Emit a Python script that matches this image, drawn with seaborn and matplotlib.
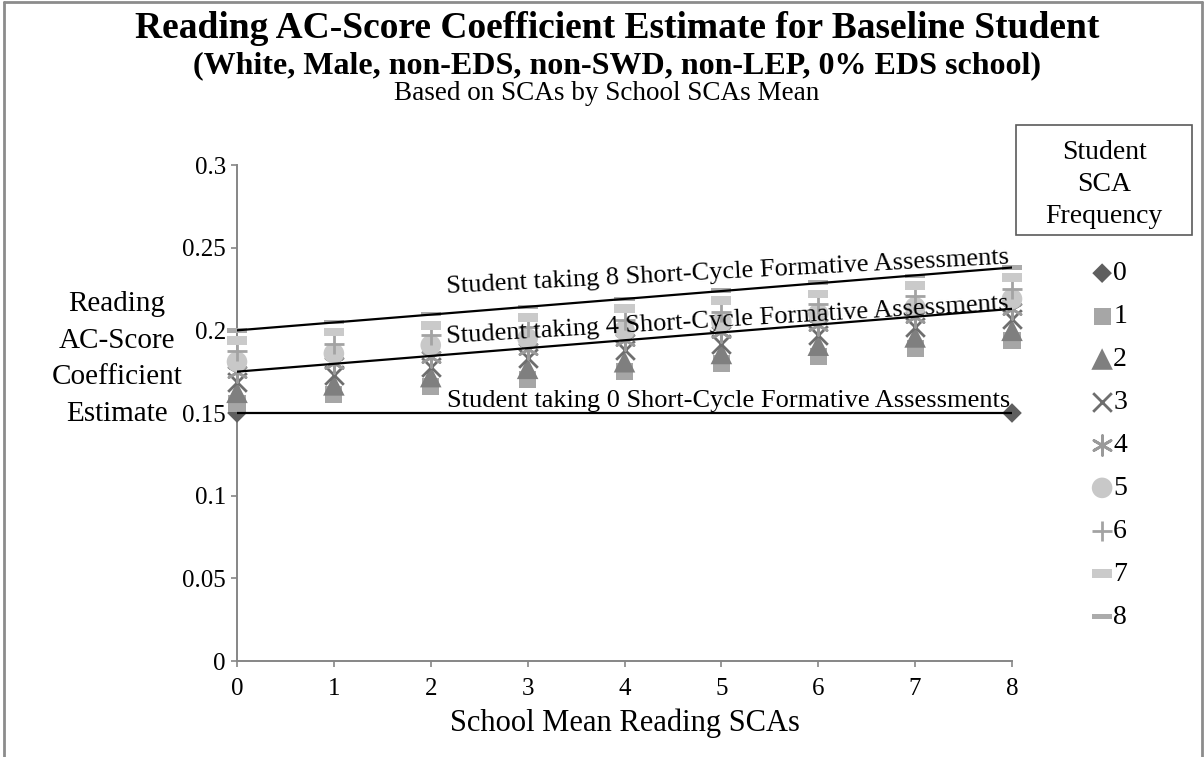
import numpy as np
import pandas as pd
import seaborn as sns
import matplotlib.pyplot as plt
from matplotlib.patches import Rectangle
from matplotlib.lines import Line2D

# school mean SCAs on the x axis
school_mean = [0, 1, 2, 3, 4, 5, 6, 7, 8]

# coefficient estimates by student SCA frequency
freq_0_x = [0, 8]
freq_0 = [0.150, 0.150]
freq_1 = [0.156, 0.161, 0.166, 0.170, 0.175, 0.180, 0.184, 0.189, 0.194]
freq_2 = [0.1625, 0.167, 0.172, 0.177, 0.181, 0.186, 0.191, 0.196, 0.200]
freq_3 = [0.169, 0.173, 0.178, 0.183, 0.188, 0.192, 0.197, 0.202, 0.207]
freq_4 = [0.175, 0.180, 0.184, 0.189, 0.194, 0.199, 0.203, 0.208, 0.213]
freq_5 = [0.181, 0.186, 0.191, 0.195, 0.200, 0.205, 0.210, 0.214, 0.219]
freq_6 = [0.1875, 0.192, 0.197, 0.202, 0.206, 0.211, 0.216, 0.221, 0.225]
freq_7 = [0.194, 0.199, 0.203, 0.208, 0.213, 0.218, 0.222, 0.227, 0.232]
freq_8 = [0.200, 0.205, 0.210, 0.214, 0.219, 0.224, 0.229, 0.233, 0.238]

# straight reference lines for 0, 4 and 8 SCAs
trend_x = [0, 8]
trend_0 = [0.150, 0.150]
trend_4 = [0.175, 0.213]
trend_8 = [0.200, 0.238]

y_ticks = [0, 0.05, 0.1, 0.15, 0.2, 0.25, 0.3]
y_tick_labels = ['0', '0.05', '0.1', '0.15', '0.2', '0.25', '0.3']

sns.set_style('white')
plt.rcParams['font.family'] = ['Liberation Serif', 'DejaVu Serif']
plt.rcParams['text.color'] = 'black'
plt.rcParams['axes.labelcolor'] = 'black'
plt.rcParams['xtick.labelcolor'] = 'black'
plt.rcParams['ytick.labelcolor'] = 'black'

fig = plt.figure(figsize=(12.04, 7.57), dpi=100)
ax = fig.add_axes([237 / 1204, 1 - 661 / 757, (1012 - 237) / 1204, (661 - 165) / 757])

long_dash = [(-1, -0.22), (1, -0.22), (1, 0.22), (-1, 0.22), (-1, -0.22)]
short_dash = [(-0.5, -0.22), (0.5, -0.22), (0.5, 0.22), (-0.5, 0.22), (-0.5, -0.22)]

series = [
    ('0', freq_0_x, freq_0, 'D', 100, '#5f5f5f', 0),
    ('1', school_mean, freq_1, 's', 150, '#a6a6a6', 0),
    ('2', school_mean, freq_2, '^', 240, '#7f7f7f', 0),
    ('3', school_mean, freq_3, 'x', 180, '#6e6e6e', 2.0),
    ('4', school_mean, freq_4, (6, 2, 0), 200, '#9a9a9a', 2.0),
    ('5', school_mean, freq_5, 'o', 220, '#c8c8c8', 0),
    ('6', school_mean, freq_6, '+', 210, '#a3a3a3', 2.0),
    ('7', school_mean, freq_7, short_dash, 210, '#cacaca', 0),
    ('8', school_mean, freq_8, long_dash, 210, '#ababab', 0),
]

handles = []
for label, xs, ys, marker, size, color, lw in series:
    df = pd.DataFrame({'x': xs, 'y': ys})
    if lw > 0:
        sns.scatterplot(data=df, x='x', y='y', marker=marker, s=size, color=color,
                        linewidth=lw, ax=ax, clip_on=False, zorder=3)
    else:
        sns.scatterplot(data=df, x='x', y='y', marker=marker, s=size, color=color,
                        edgecolor='none', linewidth=0, ax=ax, clip_on=False, zorder=3)
    handles.append(ax.collections[-1])

for ys in [trend_0, trend_4, trend_8]:
    sns.lineplot(x=trend_x, y=ys, color='black', linewidth=1.6, ax=ax, zorder=4)

ax.set_xlim(0, 8)
ax.set_ylim(0, 0.3)
ax.set_xticks(school_mean)
ax.set_xticklabels([str(v) for v in school_mean])
ax.set_yticks(y_ticks)
ax.set_yticklabels(y_tick_labels)
ax.tick_params(axis='both', which='both', direction='out', length=4, width=1.2,
               color='#868686', labelcolor='black', labelsize=18, pad=4,
               left=True, bottom=True)
ax.tick_params(axis='x', pad=8)
for side in ['top', 'right']:
    ax.spines[side].set_visible(False)
for side in ['left', 'bottom']:
    ax.spines[side].set_color('#868686')
    ax.spines[side].set_linewidth(1.4)

ax.set_xlabel('School Mean Reading SCAs', fontsize=22, labelpad=6, color='black')
ax.set_ylabel('')

# line labels
ax.text(5.07, 0.2313, 'Student taking 8 Short-Cycle Formative Assessments', fontsize=19,
        ha='center', va='baseline', rotation=3.0, rotation_mode='anchor', zorder=5)
ax.text(5.07, 0.2022, 'Student taking 4 Short-Cycle Formative Assessments', fontsize=19,
        ha='center', va='baseline', rotation=3.4, rotation_mode='anchor', zorder=5)
ax.text(5.07, 0.1536, 'Student taking 0 Short-Cycle Formative Assessments', fontsize=19,
        ha='center', va='baseline', rotation=0, zorder=5)

# titles
fig.text(617 / 1204, 1 - 29 / 757, 'Reading AC-Score Coefficient Estimate for Baseline Student',
         fontsize=27, fontweight='bold', ha='center', va='center')
fig.text(617 / 1204, 1 - 66 / 757, '(White, Male, non-EDS, non-SWD, non-LEP, 0% EDS school)',
         fontsize=23, fontweight='bold', ha='center', va='center')
fig.text(607 / 1204, 1 - 93 / 757, 'Based on SCAs by School SCAs Mean',
         fontsize=19.5, ha='center', va='center')

# y axis title, horizontal
fig.text(117 / 1204, 1 - 359 / 757, 'Reading\nAC-Score\nCoefficient\nEstimate',
         fontsize=21, ha='center', va='center', linespacing=1.54)

# legend title box
fig.patches.append(Rectangle((1016 / 1204, 1 - 235 / 757), 176 / 1204, 110 / 757,
                             transform=fig.transFigure, fill=False,
                             edgecolor='#5a5a5a', linewidth=1.2))
fig.text(1104 / 1204, 1 - 184.5 / 757, 'Student\nSCA\nFrequency', fontsize=20,
         ha='center', va='center', linespacing=1.35)

leg = ax.legend(handles, [s[0] for s in series], loc='upper left',
                bbox_to_anchor=(1091 / 1204, 1 - 261 / 757), bbox_transform=fig.transFigure,
                frameon=False, fontsize=20, handlelength=0.8, handletextpad=0.0,
                labelspacing=0.63, borderpad=0, borderaxespad=0, markerscale=1.0)

# outer border (top, left, right)
for xs, ys in [([0.003, 0.998], [0.998, 0.998]), ([0.003, 0.003], [0.0, 0.998]),
               ([0.998, 0.998], [0.0, 0.998])]:
    fig.add_artist(Line2D(xs, ys, transform=fig.transFigure, color='#8c8c8c', linewidth=2))

fig.savefig('out.png', dpi=100)
